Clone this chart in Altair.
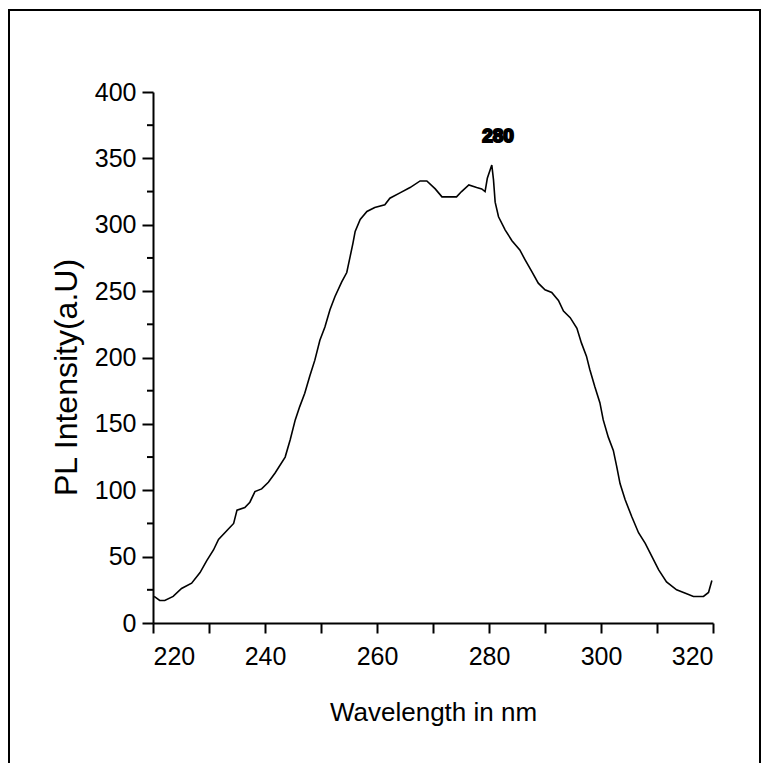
import altair as alt
import pandas as pd

# Wavelength (nm) and PL intensity (a.U)
wavelength = [220.2, 221.2, 222.1, 223.6, 225.1, 226.9, 228.4, 229.6, 230.8, 231.7,
              233.5, 234.4, 235.0, 236.4, 237.3, 238.2, 239.4, 240.6, 241.8, 243.6,
              244.5, 245.4, 246.2, 247.1, 248.0, 248.9, 249.8, 250.7, 251.6, 252.5,
              253.7, 254.6, 255.2, 255.7, 256.1, 257.0, 258.2, 259.6, 261.4, 262.3,
              264.1, 265.9, 267.7, 268.9, 270.4, 271.6, 274.2, 275.1, 276.4, 277.8,
              278.7, 279.3, 279.7, 280.5, 280.8, 281.1, 281.7, 282.9, 284.1, 285.5,
              286.4, 287.6, 288.8, 290.0, 291.2, 292.4, 293.3, 294.5, 295.7, 296.5,
              297.4, 298.0, 298.9, 299.8, 300.4, 301.3, 302.2, 302.8, 303.4, 304.3,
              305.5, 306.7, 307.9, 309.1, 310.3, 311.7, 313.5, 315.3, 316.5, 318.3,
              319.2, 319.8]
intensity = [20, 17, 17, 20, 26, 30, 38, 47, 55, 63,
             71, 75, 85, 87, 91, 99, 101, 106, 113, 125,
             138, 153, 163, 173, 186, 198, 213, 223, 236, 246,
             257, 264, 276, 286, 295, 304, 310, 313, 315, 320,
             324, 328, 333, 333, 327, 321, 321, 325, 330, 328,
             327, 325, 335, 345, 334, 317, 306, 296, 288, 281,
             274, 265, 256, 251, 249, 243, 235, 230, 222, 211,
             201, 191, 178, 166, 153, 140, 130, 118, 105, 93,
             80, 68, 60, 50, 40, 31, 25, 22, 20, 20,
             23, 32]

x_ticks = [220, 230, 240, 250, 260, 270, 280, 290, 300, 310, 320]
y_ticks = [0, 50, 100, 150, 200, 250, 300, 350, 400]
y_minor = [25, 75, 125, 175, 225, 275, 325, 375]

peak_x = [280]
peak_y = [367]
peak_label = ["280"]

FONT = "Liberation Sans"

df = pd.DataFrame({"wl": wavelength, "pl": intensity})
df_minor = pd.DataFrame({"wl": [220] * len(y_minor), "pl": y_minor})
df_peak = pd.DataFrame({"wl": peak_x, "pl": peak_y, "t": peak_label})
df_one = pd.DataFrame({"a": [0]})

xscale = alt.Scale(domain=[220, 320], nice=False, zero=False)
yscale = alt.Scale(domain=[0, 400], nice=False)

X = alt.X("wl:Q", scale=xscale,
          axis=alt.Axis(values=x_ticks, title="Wavelength in nm",
                        labelExpr="datum.value % 20 == 0 ? datum.label : ''",
                        tickSize=10, tickWidth=2, tickColor="black",
                        domainColor="black", domainWidth=2,
                        labelFont=FONT, labelFontSize=25, labelColor="black",
                        labelPadding=11, grid=False,
                        titleFont=FONT, titleFontSize=26, titleFontWeight="normal",
                        titleColor="black", titleY=97, titleBaseline="alphabetic"))
Y = alt.Y("pl:Q", scale=yscale,
          axis=alt.Axis(values=y_ticks, title="PL Intensity(a.U)",
                        tickSize=11, tickWidth=2, tickColor="black",
                        domainColor="black", domainWidth=2,
                        labelFont=FONT, labelFontSize=25, labelColor="black",
                        labelPadding=6, grid=False,
                        titleFont=FONT, titleFontSize=32, titleFontWeight="normal",
                        titleColor="black", titleAngle=-90, titleX=-87, titleY=285,
                        titleAlign="center", titleBaseline="middle"))

line = alt.Chart(df).mark_line(color="black", strokeWidth=1.6).encode(x=X, y=Y)

minor = alt.Chart(df_minor).mark_rule(color="black", strokeWidth=2).encode(
    y=Y,
    x=alt.value(-6),
    x2=alt.value(0),
)

peak = alt.Chart(df_peak).mark_text(
    font=FONT, fontSize=19, fontWeight="bold", color="black",
    stroke="black", strokeWidth=2, dx=9, baseline="middle", align="center"
).encode(x=X, y=Y, text="t:N")

frame = alt.Chart(df_one).mark_rect(filled=False, stroke="black", strokeWidth=2).encode(
    x=alt.value(-144), x2=alt.value(607), y=alt.value(-82), y2=alt.value(720)
)

chart = alt.layer(line, minor, peak, frame).properties(
    width=560, height=531,
    autosize=alt.AutoSizeParams(type="none"),
    padding={"left": 145, "top": 84, "right": 48, "bottom": 140},
    background="white",
).configure_view(stroke=None)

chart.save("out.html", embed_options={"renderer": "svg", "actions": False})
